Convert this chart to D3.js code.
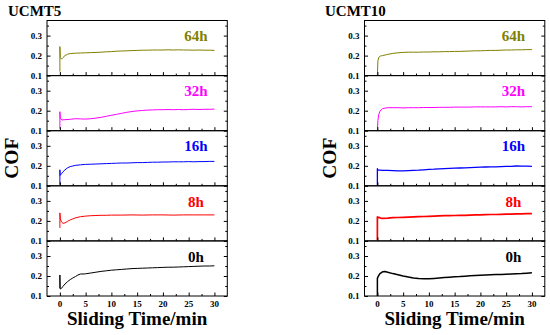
<!DOCTYPE html>
<html><head><meta charset="utf-8">
<script src="https://cdn.jsdelivr.net/npm/d3@7/dist/d3.min.js"></script>
<style>
html,body{margin:0;padding:0;background:#fff;}
svg text{font-family:"Liberation Serif","Times New Roman",serif;font-weight:bold;}
</style>
</head><body>
<svg id="c" width="550" height="335"></svg>
<script>
// ---- DATA ----
const groups = ["UCMT5", "UCMT10"];
const seriesLabels = ["64h", "32h", "16h", "8h", "0h"];
const yTickValues = [0.1, 0.2, 0.3];
const xTickValues = [0, 5, 10, 15, 20, 25, 30];
const xLabel = "Sliding Time/min";
const yLabel = "COF";

// UCMT5 series: [time (min), COF]
const ucmt5_64h = [[0,0.12],[0,0.245],[0.1,0.19],[0.3,0.182],[0.6,0.19],[1,0.2],[1.5,0.207],[2,0.21],[3,0.212],[4,0.213],[5,0.214],[6,0.215],[7,0.216],[8,0.217],[9,0.219],[10,0.22],[11,0.222],[12,0.223],[13,0.224],[14,0.225],[15,0.226],[16,0.227],[17,0.227],[18,0.228],[19,0.228],[20,0.228],[21,0.229],[22,0.228],[23,0.229],[24,0.228],[25,0.228],[26,0.227],[27,0.228],[28,0.227],[29,0.227],[30,0.226]];
const ucmt5_32h = [[0,0.11],[0,0.195],[0.1,0.16],[0.4,0.154],[1,0.155],[2,0.157],[3,0.16],[4,0.159],[5,0.158],[6,0.16],[7,0.163],[8,0.167],[9,0.172],[10,0.177],[11,0.182],[12,0.187],[13,0.192],[14,0.196],[15,0.199],[16,0.201],[17,0.203],[18,0.204],[19,0.205],[20,0.205],[21,0.206],[22,0.205],[23,0.206],[24,0.205],[25,0.206],[26,0.207],[27,0.206],[28,0.207],[29,0.207],[30,0.208]];
const ucmt5_16h = [[0,0.105],[0,0.18],[0.05,0.152],[0.3,0.16],[0.6,0.17],[1,0.18],[1.5,0.19],[2,0.196],[2.5,0.199],[3,0.202],[4,0.205],[5,0.207],[6,0.208],[7,0.209],[8,0.21],[9,0.211],[10,0.212],[11,0.213],[12,0.214],[13,0.214],[14,0.215],[15,0.216],[16,0.216],[17,0.217],[18,0.218],[19,0.218],[20,0.219],[21,0.219],[22,0.22],[23,0.22],[24,0.22],[25,0.221],[26,0.22],[27,0.221],[28,0.221],[29,0.222],[30,0.222]];
const ucmt5_8h = [[0,0.165],[0,0.24],[0.1,0.21],[0.3,0.195],[0.6,0.188],[1,0.19],[1.5,0.198],[2,0.205],[2.5,0.21],[3,0.215],[4,0.221],[5,0.224],[6,0.226],[7,0.227],[8,0.228],[9,0.228],[10,0.229],[12,0.229],[14,0.23],[16,0.229],[18,0.23],[20,0.23],[22,0.229],[24,0.23],[26,0.23],[28,0.23],[30,0.23]];
const ucmt5_0h = [[0,0.14],[0,0.205],[0.05,0.135],[0.3,0.138],[0.6,0.148],[1,0.16],[1.5,0.172],[2,0.182],[2.5,0.19],[3,0.197],[3.5,0.205],[4,0.21],[4.5,0.21],[5,0.211],[6,0.215],[7,0.219],[8,0.223],[9,0.226],[10,0.229],[11,0.231],[12,0.233],[13,0.235],[14,0.237],[15,0.238],[16,0.239],[17,0.24],[18,0.241],[19,0.242],[20,0.243],[21,0.244],[22,0.244],[23,0.245],[24,0.246],[25,0.247],[26,0.248],[27,0.249],[28,0.25],[29,0.25],[30,0.251]];

// UCMT10 series
const ucmt10_64h = [[0,0.1],[0.1,0.175],[0.3,0.192],[0.6,0.198],[1,0.2],[1.5,0.203],[2,0.206],[3,0.211],[4,0.214],[5,0.216],[6,0.217],[7,0.217],[8,0.217],[9,0.218],[10,0.218],[11,0.219],[12,0.219],[13,0.22],[14,0.22],[15,0.221],[16,0.221],[17,0.222],[18,0.223],[19,0.224],[20,0.224],[21,0.225],[22,0.226],[23,0.226],[24,0.227],[25,0.228],[26,0.228],[27,0.229],[28,0.229],[29,0.23],[30,0.23]];
const ucmt10_32h = [[0,0.1],[0.1,0.15],[0.25,0.18],[0.5,0.197],[0.8,0.207],[1,0.21],[1.5,0.213],[2,0.215],[3,0.215],[4,0.215],[5,0.214],[6,0.215],[7,0.215],[8,0.215],[9,0.216],[10,0.216],[11,0.216],[12,0.217],[13,0.217],[14,0.217],[15,0.218],[16,0.218],[17,0.218],[18,0.218],[19,0.219],[20,0.219],[21,0.219],[22,0.219],[23,0.219],[24,0.22],[25,0.219],[26,0.22],[27,0.22],[28,0.219],[29,0.22],[30,0.22]];
const ucmt10_16h = [[0,0.1],[0,0.186],[0.1,0.178],[0.5,0.178],[1,0.177],[2,0.177],[3,0.176],[4,0.175],[5,0.175],[6,0.176],[7,0.177],[8,0.178],[9,0.18],[10,0.182],[11,0.183],[12,0.185],[13,0.186],[14,0.187],[15,0.188],[16,0.189],[17,0.19],[18,0.191],[19,0.192],[20,0.193],[21,0.194],[22,0.195],[23,0.195],[24,0.196],[25,0.197],[26,0.197],[27,0.199],[28,0.198],[29,0.198],[30,0.197]];
const ucmt10_8h = [[0,0.105],[0,0.22],[0.1,0.215],[0.3,0.218],[0.6,0.214],[1,0.213],[2,0.214],[3,0.216],[4,0.217],[5,0.218],[6,0.219],[7,0.22],[8,0.221],[9,0.222],[10,0.223],[11,0.224],[12,0.225],[13,0.226],[14,0.226],[15,0.227],[16,0.228],[17,0.228],[18,0.229],[19,0.23],[20,0.23],[21,0.231],[22,0.232],[23,0.232],[24,0.233],[25,0.234],[26,0.234],[27,0.235],[28,0.235],[29,0.236],[30,0.236]];
const ucmt10_0h = [[0,0.1],[0,0.188],[0.2,0.2],[0.5,0.212],[1,0.221],[1.5,0.222],[2,0.219],[3,0.212],[4,0.206],[5,0.2],[6,0.195],[7,0.19],[8,0.187],[9,0.186],[10,0.186],[11,0.188],[12,0.19],[13,0.192],[14,0.194],[15,0.196],[16,0.197],[17,0.199],[18,0.201],[19,0.203],[20,0.204],[21,0.205],[22,0.206],[23,0.207],[24,0.208],[25,0.209],[26,0.21],[27,0.211],[28,0.212],[29,0.214],[30,0.216]];

const seriesByGroup = [
  [ucmt5_64h, ucmt5_32h, ucmt5_16h, ucmt5_8h, ucmt5_0h],
  [ucmt10_64h, ucmt10_32h, ucmt10_16h, ucmt10_8h, ucmt10_0h]
];

// ---- STYLE / LAYOUT ----
const colors = ["#808000", "#ff00ff", "#0000ff", "#ff0000", "#000000"];
const strokeW = [[1, 1, 1, 1, 1], [1, 1, 1.3, 1.7, 1.5]];
const panelLeft = [47, 364.5];
const panelW = 180.3;
const top0 = 20.5, panelH = 55.1;
const labelT = 26.4, labelV = 0.272;

const svg = d3.select("#c");

groups.forEach((g, gi) => {
  const x0 = panelLeft[gi];
  const x = d3.scaleLinear().domain([-2.5, 32.5]).range([x0, x0 + panelW]);

  // group title
  svg.append("text").attr("x", gi === 0 ? 8 : 325).attr("y", 15.5)
    .attr("font-size", 15).text(g);

  // y label
  const cy = top0 + panelH * 2.5;
  svg.append("text")
    .attr("transform", `translate(${gi === 0 ? 17.5 : 336},${cy}) rotate(-90)`)
    .attr("text-anchor", "middle").attr("font-size", 19.5).text(yLabel);

  // x label
  svg.append("text").attr("x", x(15)).attr("y", 325)
    .attr("text-anchor", "middle").attr("font-size", 19).text(xLabel);

  seriesByGroup[gi].forEach((data, si) => {
    const pt = top0 + si * panelH;
    const y = d3.scaleLinear().domain([0.1, 0.1 + panelH / 200]).range([pt + panelH, pt]);
    const p = svg.append("g");

    // line
    const line = d3.line().x(d => x(d[0])).y(d => y(d[1]));
    p.append("path").datum(data).attr("d", line)
      .attr("fill", "none").attr("stroke", colors[si])
      .attr("stroke-width", strokeW[gi][si]).attr("stroke-linejoin", "round");

    // left axis (inward ticks)
    const yMinor = [0.15, 0.25, 0.35];
    p.append("g").attr("transform", `translate(${x0},0)`)
      .call(d3.axisRight(y).tickValues(yTickValues).tickSize(3.5).tickFormat(""))
      .select(".domain").remove();
    p.append("g").attr("transform", `translate(${x0},0)`)
      .call(d3.axisRight(y).tickValues(yMinor).tickSize(2).tickFormat(""))
      .select(".domain").remove();
    // right axis inward ticks
    p.append("g").attr("transform", `translate(${x0 + panelW},0)`)
      .call(d3.axisLeft(y).tickValues(yTickValues).tickSize(3.5).tickFormat(""))
      .select(".domain").remove();
    p.append("g").attr("transform", `translate(${x0 + panelW},0)`)
      .call(d3.axisLeft(y).tickValues(yMinor).tickSize(2).tickFormat(""))
      .select(".domain").remove();
    // bottom inward ticks
    p.append("g").attr("transform", `translate(0,${pt + panelH})`)
      .call(d3.axisTop(x).tickValues(xTickValues).tickSize(3.5).tickFormat(""))
      .select(".domain").remove();
    p.append("g").attr("transform", `translate(0,${pt + panelH})`)
      .call(d3.axisTop(x).tickValues(d3.range(2.5, 30, 5)).tickSize(2).tickFormat(""))
      .select(".domain").remove();

    // y tick labels
    p.selectAll("text.yt").data(yTickValues).join("text").attr("class", "yt")
      .attr("x", x0 - 5).attr("y", d => y(d)).attr("dy", "0.35em")
      .attr("text-anchor", "end").attr("font-size", 9).text(d3.format(".1f"));

    // frame
    p.append("rect").attr("x", x0).attr("y", pt).attr("width", panelW).attr("height", panelH)
      .attr("fill", "none").attr("stroke", "#000").attr("stroke-width", 1);

    // series label
    p.append("text").attr("x", x(labelT)).attr("y", y(labelV))
      .attr("text-anchor", "middle").attr("font-size", 15).attr("fill", colors[si])
      .text(seriesLabels[si]);

    svg.selectAll("g.tick line").attr("stroke", "#000");

    if (si === 4) {
      p.selectAll("text.xt").data(xTickValues).join("text").attr("class", "xt")
        .attr("x", d => x(d)).attr("y", 306.5).attr("text-anchor", "middle")
        .attr("font-size", 9).text(d => d);
    }
  });
});
</script>
</body></html>
